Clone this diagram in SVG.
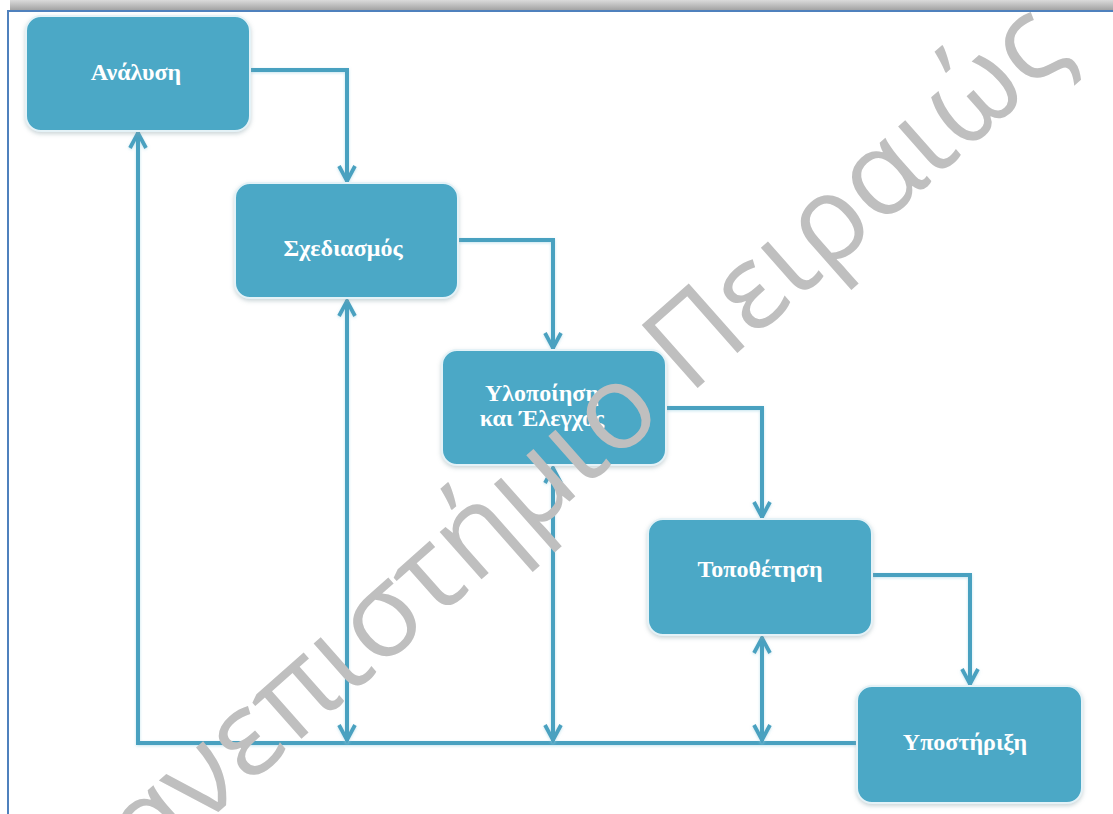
<svg xmlns="http://www.w3.org/2000/svg" width="1113" height="814" viewBox="0 0 1113 814">
  <style>
    .box { fill: #4ba8c6; stroke: #e4f2f7; stroke-width: 2; filter: url(#soft); }
    .lbl { font-family: "Liberation Serif", "DejaVu Serif", serif; font-weight: bold; font-size: 24px; fill: #ffffff; text-anchor: middle; }
    .wire { fill: none; stroke: #4aa1c0; stroke-width: 4; filter: url(#halo); }
    .mark { font-family: "Open Sans", "Noto Sans", sans-serif; font-size: 118px; fill: #bfbfbf; text-anchor: middle; }
  </style>
  <defs>
    <linearGradient id="band" x1="0" y1="0" x2="0" y2="1">
      <stop offset="0" stop-color="#dadada"/>
      <stop offset="1" stop-color="#a3a3a3"/>
    </linearGradient>
    <filter id="soft" x="-10%" y="-10%" width="120%" height="125%">
      <feDropShadow dx="0" dy="2" stdDeviation="2" flood-color="#8aa0a8" flood-opacity="0.45"/>
    </filter>
    <!-- user-space region so that straight vertical wires still render -->
    <filter id="halo" filterUnits="userSpaceOnUse" x="0" y="0" width="1113" height="814">
      <feDropShadow dx="0" dy="1" stdDeviation="1.5" flood-color="#9fd3e3" flood-opacity="0.6"/>
    </filter>
    <marker id="tip" viewBox="-20 -11 24 22" refX="1" refY="0" markerWidth="24" markerHeight="22" markerUnits="userSpaceOnUse" orient="auto-start-reverse">
      <path d="M-15,-8 L0,0 L-15,8" fill="none" stroke="#4aa1c0" stroke-width="3.8" stroke-linejoin="miter"/>
    </marker>
  </defs>

  <!-- page frame -->
  <rect x="10" y="0" width="1103" height="10" fill="url(#band)"/>
  <rect x="7" y="10" width="1106" height="2" fill="#4f81bd"/>
  <rect x="7" y="10" width="2" height="804" fill="#4f81bd"/>

  <!-- connectors -->
  <g id="connectors">
    <path class="wire" d="M250,70 H347 V182" marker-end="url(#tip)"/>
    <path class="wire" d="M458,240 H553 V349" marker-end="url(#tip)"/>
    <path class="wire" d="M666,408 H762 V518" marker-end="url(#tip)"/>
    <path class="wire" d="M872,575 H970 V685" marker-end="url(#tip)"/>
    <path class="wire" d="M857,743 H138 V132" marker-end="url(#tip)"/>
    <path class="wire" d="M347,300 V741" marker-start="url(#tip)" marker-end="url(#tip)"/>
    <path class="wire" d="M553,467 V741" marker-start="url(#tip)" marker-end="url(#tip)"/>
    <path class="wire" d="M762,637 V741" marker-start="url(#tip)" marker-end="url(#tip)"/>
  </g>

  <!-- nodes -->
  <g id="analysis">
    <rect class="box" x="26" y="16" width="224" height="115" rx="15"/>
    <text class="lbl" x="136" y="80">Ανάλυση</text>
  </g>
  <g id="design">
    <rect class="box" x="235" y="183" width="223" height="115" rx="15"/>
    <text class="lbl" x="343" y="256">Σχεδιασμός</text>
  </g>
  <g id="implementation">
    <rect class="box" x="442" y="350" width="224" height="115" rx="15"/>
    <text class="lbl" x="542" y="401">Υλοποίηση</text>
    <text class="lbl" x="542" y="426">και Έλεγχος</text>
  </g>
  <g id="deployment">
    <rect class="box" x="648" y="519" width="224" height="116" rx="15"/>
    <text class="lbl" x="760" y="577">Τοποθέτηση</text>
  </g>
  <g id="support">
    <rect class="box" x="857" y="686" width="225" height="117" rx="15"/>
    <text class="lbl" x="965" y="750">Υποστήριξη</text>
  </g>

  <!-- watermark -->
  <text class="mark" x="578" y="494" transform="rotate(-41.5 578 494)">Πανεπιστήμιο Πειραιώς</text>
</svg>
